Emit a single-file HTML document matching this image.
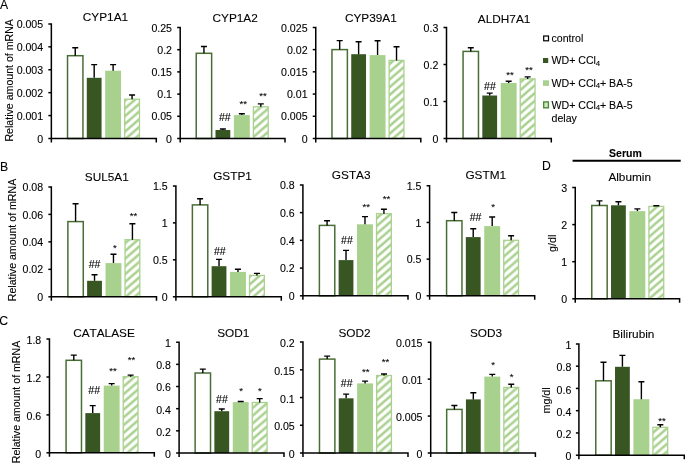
<!DOCTYPE html>
<html><head><meta charset="utf-8"><title>Figure</title>
<style>
html,body{margin:0;padding:0;background:#fff;}
svg{display:block;will-change:transform;}
text{font-family:"Liberation Sans",sans-serif;fill:#000;font-kerning:none;stroke:#000;stroke-width:0.1px;}
</style></head><body>
<svg width="685" height="463" viewBox="0 0 685 463">
<defs>
<pattern id="h0" patternUnits="userSpaceOnUse" x="8.486" y="0" width="8.95" height="7.75"><rect width="8.95" height="7.75" fill="#fff"/><path d="M-8.95 7.75L8.95 -7.75M0 7.75L8.95 0M0 15.5L17.9 0" stroke="#A9D18E" stroke-width="2.45"/></pattern>
<pattern id="h1" patternUnits="userSpaceOnUse" x="8.770" y="0" width="8.95" height="7.75"><rect width="8.95" height="7.75" fill="#fff"/><path d="M-8.95 7.75L8.95 -7.75M0 7.75L8.95 0M0 15.5L17.9 0" stroke="#A9D18E" stroke-width="2.45"/></pattern>
<pattern id="h2" patternUnits="userSpaceOnUse" x="7.014" y="0" width="8.95" height="7.75"><rect width="8.95" height="7.75" fill="#fff"/><path d="M-8.95 7.75L8.95 -7.75M0 7.75L8.95 0M0 15.5L17.9 0" stroke="#A9D18E" stroke-width="2.45"/></pattern>
<pattern id="h3" patternUnits="userSpaceOnUse" x="6.822" y="0" width="8.95" height="7.75"><rect width="8.95" height="7.75" fill="#fff"/><path d="M-8.95 7.75L8.95 -7.75M0 7.75L8.95 0M0 15.5L17.9 0" stroke="#A9D18E" stroke-width="2.45"/></pattern>
<pattern id="h4" patternUnits="userSpaceOnUse" x="3.174" y="0" width="8.95" height="7.75"><rect width="8.95" height="7.75" fill="#fff"/><path d="M-8.95 7.75L8.95 -7.75M0 7.75L8.95 0M0 15.5L17.9 0" stroke="#A9D18E" stroke-width="2.45"/></pattern>
<pattern id="h5" patternUnits="userSpaceOnUse" x="5.332" y="0" width="8.95" height="7.75"><rect width="8.95" height="7.75" fill="#fff"/><path d="M-8.95 7.75L8.95 -7.75M0 7.75L8.95 0M0 15.5L17.9 0" stroke="#A9D18E" stroke-width="2.45"/></pattern>
<pattern id="h6" patternUnits="userSpaceOnUse" x="2.270" y="0" width="8.95" height="7.75"><rect width="8.95" height="7.75" fill="#fff"/><path d="M-8.95 7.75L8.95 -7.75M0 7.75L8.95 0M0 15.5L17.9 0" stroke="#A9D18E" stroke-width="2.45"/></pattern>
<pattern id="h7" patternUnits="userSpaceOnUse" x="3.470" y="0" width="8.95" height="7.75"><rect width="8.95" height="7.75" fill="#fff"/><path d="M-8.95 7.75L8.95 -7.75M0 7.75L8.95 0M0 15.5L17.9 0" stroke="#A9D18E" stroke-width="2.45"/></pattern>
<pattern id="h8" patternUnits="userSpaceOnUse" x="0.831" y="0" width="8.95" height="7.75"><rect width="8.95" height="7.75" fill="#fff"/><path d="M-8.95 7.75L8.95 -7.75M0 7.75L8.95 0M0 15.5L17.9 0" stroke="#A9D18E" stroke-width="2.45"/></pattern>
<pattern id="h9" patternUnits="userSpaceOnUse" x="6.024" y="0" width="8.95" height="7.75"><rect width="8.95" height="7.75" fill="#fff"/><path d="M-8.95 7.75L8.95 -7.75M0 7.75L8.95 0M0 15.5L17.9 0" stroke="#A9D18E" stroke-width="2.45"/></pattern>
<pattern id="h10" patternUnits="userSpaceOnUse" x="7.755" y="0" width="8.95" height="7.75"><rect width="8.95" height="7.75" fill="#fff"/><path d="M-8.95 7.75L8.95 -7.75M0 7.75L8.95 0M0 15.5L17.9 0" stroke="#A9D18E" stroke-width="2.45"/></pattern>
<pattern id="h11" patternUnits="userSpaceOnUse" x="6.543" y="0" width="8.95" height="7.75"><rect width="8.95" height="7.75" fill="#fff"/><path d="M-8.95 7.75L8.95 -7.75M0 7.75L8.95 0M0 15.5L17.9 0" stroke="#A9D18E" stroke-width="2.45"/></pattern>
<pattern id="h12" patternUnits="userSpaceOnUse" x="7.396" y="0" width="8.95" height="7.75"><rect width="8.95" height="7.75" fill="#fff"/><path d="M-8.95 7.75L8.95 -7.75M0 7.75L8.95 0M0 15.5L17.9 0" stroke="#A9D18E" stroke-width="2.45"/></pattern>
<pattern id="h13" patternUnits="userSpaceOnUse" x="7.141" y="0" width="8.95" height="7.75"><rect width="8.95" height="7.75" fill="#fff"/><path d="M-8.95 7.75L8.95 -7.75M0 7.75L8.95 0M0 15.5L17.9 0" stroke="#A9D18E" stroke-width="2.45"/></pattern>
</defs>
<filter id="soft" x="0" y="0" width="685" height="463" filterUnits="userSpaceOnUse"><feGaussianBlur stdDeviation="0.3"/></filter>
<rect width="685" height="463" fill="#fff"/>
<g filter="url(#soft)">
<rect width="685" height="463" fill="#fff"/>
<text x="105.45" y="21.40" font-size="11.8" text-anchor="middle">CYP1A1</text>
<text x="43.15" y="28.05" font-size="10.6" text-anchor="end">0.005</text>
<text x="43.15" y="50.97" font-size="10.6" text-anchor="end">0.004</text>
<text x="43.15" y="73.89" font-size="10.6" text-anchor="end">0.003</text>
<text x="43.15" y="96.81" font-size="10.6" text-anchor="end">0.002</text>
<text x="43.15" y="119.73" font-size="10.6" text-anchor="end">0.001</text>
<text x="43.15" y="142.65" font-size="10.6" text-anchor="end">0</text>
<rect x="67.53" y="55.70" width="15.40" height="82.80" fill="#fff" stroke="#4A6E36" stroke-width="1.5"/>
<path d="M75.23 55.70V47.80M72.23 47.80H78.23" stroke="#000" stroke-width="1.4" fill="none"/>
<rect x="86.78" y="77.80" width="14.80" height="60.70" fill="#375623"/>
<path d="M94.18 77.80V64.60M91.18 64.60H97.18" stroke="#000" stroke-width="1.4" fill="none"/>
<rect x="105.17" y="70.70" width="15.90" height="67.80" fill="#A9D18E"/>
<path d="M113.12 70.70V64.60M110.12 64.60H116.12" stroke="#000" stroke-width="1.4" fill="none"/>
<rect x="124.67" y="99.20" width="14.80" height="39.30" fill="url(#h0)" stroke="#A9D18E" stroke-width="1.3"/>
<path d="M132.07 99.20V95.00M129.07 95.00H135.07" stroke="#000" stroke-width="1.4" fill="none"/>
<path d="M48.35 23.90H51.35V138.50H156.30V142.50M51.35 138.50V142.50" stroke="#000" stroke-width="1.5" fill="none"/>
<path d="M48.35 46.82H51.35" stroke="#000" stroke-width="1.5"/>
<path d="M48.35 69.74H51.35" stroke="#000" stroke-width="1.5"/>
<path d="M48.35 92.66H51.35" stroke="#000" stroke-width="1.5"/>
<path d="M48.35 115.58H51.35" stroke="#000" stroke-width="1.5"/>
<path d="M48.35 138.50H51.35" stroke="#000" stroke-width="1.5"/>
<text x="235.15" y="21.60" font-size="11.8" text-anchor="middle">CYP1A2</text>
<text x="172.00" y="31.65" font-size="10.6" text-anchor="end">0.25</text>
<text x="172.00" y="53.85" font-size="10.6" text-anchor="end">0.2</text>
<text x="172.00" y="76.05" font-size="10.6" text-anchor="end">0.15</text>
<text x="172.00" y="98.25" font-size="10.6" text-anchor="end">0.1</text>
<text x="172.00" y="120.45" font-size="10.6" text-anchor="end">0.05</text>
<text x="172.00" y="142.65" font-size="10.6" text-anchor="end">0</text>
<rect x="196.24" y="53.30" width="15.40" height="85.20" fill="#fff" stroke="#4A6E36" stroke-width="1.5"/>
<path d="M203.94 53.30V46.50M200.94 46.50H206.94" stroke="#000" stroke-width="1.4" fill="none"/>
<rect x="215.49" y="130.00" width="14.80" height="8.50" fill="#375623"/>
<path d="M222.89 130.00V129.00M219.89 129.00H225.89" stroke="#000" stroke-width="1.4" fill="none"/>
<rect x="233.89" y="115.10" width="15.90" height="23.40" fill="#A9D18E"/>
<path d="M241.84 115.10V113.80M238.84 113.80H244.84" stroke="#000" stroke-width="1.4" fill="none"/>
<rect x="253.39" y="106.80" width="14.80" height="31.70" fill="url(#h1)" stroke="#A9D18E" stroke-width="1.3"/>
<path d="M260.79 106.80V103.90M257.79 103.90H263.79" stroke="#000" stroke-width="1.4" fill="none"/>
<path d="M177.20 27.50H180.20V138.50H285.00V142.50M180.20 138.50V142.50" stroke="#000" stroke-width="1.5" fill="none"/>
<path d="M177.20 49.70H180.20" stroke="#000" stroke-width="1.5"/>
<path d="M177.20 71.90H180.20" stroke="#000" stroke-width="1.5"/>
<path d="M177.20 94.10H180.20" stroke="#000" stroke-width="1.5"/>
<path d="M177.20 116.30H180.20" stroke="#000" stroke-width="1.5"/>
<path d="M177.20 138.50H180.20" stroke="#000" stroke-width="1.5"/>
<text x="224.80" y="121.30" font-size="10.6" text-anchor="middle">##</text>
<text x="243.20" y="107.14" font-size="9.6" text-anchor="middle">**</text>
<text x="263.00" y="98.84" font-size="9.6" text-anchor="middle">**</text>
<text x="370.85" y="21.60" font-size="11.8" text-anchor="middle">CYP39A1</text>
<text x="307.55" y="31.55" font-size="10.6" text-anchor="end">0.025</text>
<text x="307.55" y="53.77" font-size="10.6" text-anchor="end">0.02</text>
<text x="307.55" y="75.99" font-size="10.6" text-anchor="end">0.015</text>
<text x="307.55" y="98.21" font-size="10.6" text-anchor="end">0.01</text>
<text x="307.55" y="120.43" font-size="10.6" text-anchor="end">0.005</text>
<text x="307.55" y="142.65" font-size="10.6" text-anchor="end">0</text>
<rect x="331.98" y="49.60" width="15.40" height="88.90" fill="#fff" stroke="#4A6E36" stroke-width="1.5"/>
<path d="M339.68 49.60V40.60M336.68 40.60H342.68" stroke="#000" stroke-width="1.4" fill="none"/>
<rect x="351.23" y="54.20" width="14.80" height="84.30" fill="#375623"/>
<path d="M358.62 54.20V41.80M355.62 41.80H361.62" stroke="#000" stroke-width="1.4" fill="none"/>
<rect x="369.63" y="55.10" width="15.90" height="83.40" fill="#A9D18E"/>
<path d="M377.58 55.10V40.80M374.58 40.80H380.58" stroke="#000" stroke-width="1.4" fill="none"/>
<rect x="389.13" y="60.40" width="14.80" height="78.10" fill="url(#h2)" stroke="#A9D18E" stroke-width="1.3"/>
<path d="M396.53 60.40V46.80M393.53 46.80H399.53" stroke="#000" stroke-width="1.4" fill="none"/>
<path d="M312.75 27.40H315.75V138.50H420.80V142.50M315.75 138.50V142.50" stroke="#000" stroke-width="1.5" fill="none"/>
<path d="M312.75 49.62H315.75" stroke="#000" stroke-width="1.5"/>
<path d="M312.75 71.84H315.75" stroke="#000" stroke-width="1.5"/>
<path d="M312.75 94.06H315.75" stroke="#000" stroke-width="1.5"/>
<path d="M312.75 116.28H315.75" stroke="#000" stroke-width="1.5"/>
<path d="M312.75 138.50H315.75" stroke="#000" stroke-width="1.5"/>
<text x="504.10" y="22.70" font-size="11.8" text-anchor="middle">ALDH7A1</text>
<text x="438.30" y="31.65" font-size="10.6" text-anchor="end">0.3</text>
<text x="438.30" y="68.65" font-size="10.6" text-anchor="end">0.2</text>
<text x="438.30" y="105.65" font-size="10.6" text-anchor="end">0.1</text>
<text x="438.30" y="142.65" font-size="10.6" text-anchor="end">0</text>
<rect x="463.07" y="51.40" width="15.40" height="87.10" fill="#fff" stroke="#4A6E36" stroke-width="1.5"/>
<path d="M470.77 51.40V47.80M467.77 47.80H473.77" stroke="#000" stroke-width="1.4" fill="none"/>
<rect x="482.32" y="95.50" width="14.80" height="43.00" fill="#375623"/>
<path d="M489.72 95.50V93.10M486.72 93.10H492.72" stroke="#000" stroke-width="1.4" fill="none"/>
<rect x="500.73" y="83.00" width="15.90" height="55.50" fill="#A9D18E"/>
<path d="M508.68 83.00V81.20M505.68 81.20H511.68" stroke="#000" stroke-width="1.4" fill="none"/>
<rect x="520.23" y="78.90" width="14.80" height="59.60" fill="url(#h3)" stroke="#A9D18E" stroke-width="1.3"/>
<path d="M527.62 78.90V76.90M524.62 76.90H530.62" stroke="#000" stroke-width="1.4" fill="none"/>
<path d="M443.50 27.50H446.50V138.50H551.30V142.50M446.50 138.50V142.50" stroke="#000" stroke-width="1.5" fill="none"/>
<path d="M443.50 64.50H446.50" stroke="#000" stroke-width="1.5"/>
<path d="M443.50 101.50H446.50" stroke="#000" stroke-width="1.5"/>
<path d="M443.50 138.50H446.50" stroke="#000" stroke-width="1.5"/>
<text x="490.00" y="89.80" font-size="10.6" text-anchor="middle">##</text>
<text x="510.10" y="78.34" font-size="9.6" text-anchor="middle">**</text>
<text x="528.90" y="73.14" font-size="9.6" text-anchor="middle">**</text>
<text x="106.80" y="181.20" font-size="11.8" text-anchor="middle">SUL5A1</text>
<text x="43.15" y="191.05" font-size="10.6" text-anchor="end">0.08</text>
<text x="43.15" y="218.53" font-size="10.6" text-anchor="end">0.06</text>
<text x="43.15" y="246.00" font-size="10.6" text-anchor="end">0.04</text>
<text x="43.15" y="273.48" font-size="10.6" text-anchor="end">0.02</text>
<text x="43.15" y="300.95" font-size="10.6" text-anchor="end">0</text>
<rect x="67.88" y="221.60" width="15.40" height="75.20" fill="#fff" stroke="#4A6E36" stroke-width="1.5"/>
<path d="M75.58 221.60V203.80M72.58 203.80H78.58" stroke="#000" stroke-width="1.4" fill="none"/>
<rect x="87.12" y="280.80" width="14.80" height="16.00" fill="#375623"/>
<path d="M94.53 280.80V274.70M91.53 274.70H97.53" stroke="#000" stroke-width="1.4" fill="none"/>
<rect x="105.52" y="263.10" width="15.90" height="33.70" fill="#A9D18E"/>
<path d="M113.47 263.10V254.30M110.47 254.30H116.47" stroke="#000" stroke-width="1.4" fill="none"/>
<rect x="125.03" y="239.70" width="14.80" height="57.10" fill="url(#h4)" stroke="#A9D18E" stroke-width="1.3"/>
<path d="M132.43 239.70V223.80M129.43 223.80H135.43" stroke="#000" stroke-width="1.4" fill="none"/>
<path d="M48.35 186.90H51.35V296.80H156.50V300.80M51.35 296.80V300.80" stroke="#000" stroke-width="1.5" fill="none"/>
<path d="M48.35 214.38H51.35" stroke="#000" stroke-width="1.5"/>
<path d="M48.35 241.85H51.35" stroke="#000" stroke-width="1.5"/>
<path d="M48.35 269.33H51.35" stroke="#000" stroke-width="1.5"/>
<path d="M48.35 296.80H51.35" stroke="#000" stroke-width="1.5"/>
<text x="94.60" y="268.30" font-size="10.6" text-anchor="middle">##</text>
<text x="114.90" y="251.34" font-size="9.6" text-anchor="middle">*</text>
<text x="133.50" y="218.84" font-size="9.6" text-anchor="middle">**</text>
<text x="232.50" y="179.50" font-size="11.8" text-anchor="middle">GSTP1</text>
<text x="167.70" y="190.05" font-size="10.6" text-anchor="end">1.5</text>
<text x="167.70" y="227.02" font-size="10.6" text-anchor="end">1</text>
<text x="167.70" y="263.98" font-size="10.6" text-anchor="end">0.5</text>
<text x="167.70" y="300.95" font-size="10.6" text-anchor="end">0</text>
<rect x="192.38" y="204.90" width="15.40" height="91.90" fill="#fff" stroke="#4A6E36" stroke-width="1.5"/>
<path d="M200.07 204.90V198.80M197.07 198.80H203.07" stroke="#000" stroke-width="1.4" fill="none"/>
<rect x="211.62" y="266.20" width="14.80" height="30.60" fill="#375623"/>
<path d="M219.03 266.20V259.40M216.03 259.40H222.03" stroke="#000" stroke-width="1.4" fill="none"/>
<rect x="230.03" y="271.90" width="15.90" height="24.90" fill="#A9D18E"/>
<path d="M237.97 271.90V269.20M234.97 269.20H240.97" stroke="#000" stroke-width="1.4" fill="none"/>
<rect x="249.53" y="275.40" width="14.80" height="21.40" fill="url(#h5)" stroke="#A9D18E" stroke-width="1.3"/>
<path d="M256.93 275.40V273.40M253.93 273.40H259.93" stroke="#000" stroke-width="1.4" fill="none"/>
<path d="M172.90 185.90H175.90V296.80H281.30V300.80M175.90 296.80V300.80" stroke="#000" stroke-width="1.5" fill="none"/>
<path d="M172.90 222.87H175.90" stroke="#000" stroke-width="1.5"/>
<path d="M172.90 259.83H175.90" stroke="#000" stroke-width="1.5"/>
<path d="M172.90 296.80H175.90" stroke="#000" stroke-width="1.5"/>
<text x="219.80" y="254.60" font-size="10.6" text-anchor="middle">##</text>
<text x="351.20" y="179.10" font-size="11.8" text-anchor="middle">GSTA3</text>
<text x="294.70" y="189.05" font-size="10.6" text-anchor="end">0.8</text>
<text x="294.70" y="216.78" font-size="10.6" text-anchor="end">0.6</text>
<text x="294.70" y="244.50" font-size="10.6" text-anchor="end">0.4</text>
<text x="294.70" y="272.23" font-size="10.6" text-anchor="end">0.2</text>
<text x="294.70" y="299.95" font-size="10.6" text-anchor="end">0</text>
<rect x="319.38" y="225.40" width="15.40" height="70.40" fill="#fff" stroke="#4A6E36" stroke-width="1.5"/>
<path d="M327.07 225.40V220.80M324.07 220.80H330.07" stroke="#000" stroke-width="1.4" fill="none"/>
<rect x="338.62" y="260.10" width="14.80" height="35.70" fill="#375623"/>
<path d="M346.02 260.10V250.40M343.02 250.40H349.02" stroke="#000" stroke-width="1.4" fill="none"/>
<rect x="357.03" y="224.30" width="15.90" height="71.50" fill="#A9D18E"/>
<path d="M364.98 224.30V216.60M361.98 216.60H367.98" stroke="#000" stroke-width="1.4" fill="none"/>
<rect x="376.53" y="213.70" width="14.80" height="82.10" fill="url(#h6)" stroke="#A9D18E" stroke-width="1.3"/>
<path d="M383.93 213.70V209.20M380.93 209.20H386.93" stroke="#000" stroke-width="1.4" fill="none"/>
<path d="M299.90 184.90H302.90V295.80H408.00V299.80M302.90 295.80V299.80" stroke="#000" stroke-width="1.5" fill="none"/>
<path d="M299.90 212.62H302.90" stroke="#000" stroke-width="1.5"/>
<path d="M299.90 240.35H302.90" stroke="#000" stroke-width="1.5"/>
<path d="M299.90 268.08H302.90" stroke="#000" stroke-width="1.5"/>
<path d="M299.90 295.80H302.90" stroke="#000" stroke-width="1.5"/>
<text x="346.90" y="243.90" font-size="10.6" text-anchor="middle">##</text>
<text x="366.20" y="210.24" font-size="9.6" text-anchor="middle">**</text>
<text x="386.40" y="202.04" font-size="9.6" text-anchor="middle">**</text>
<text x="485.70" y="179.10" font-size="11.8" text-anchor="middle">GSTM1</text>
<text x="421.40" y="189.95" font-size="10.6" text-anchor="end">1.5</text>
<text x="421.40" y="226.62" font-size="10.6" text-anchor="end">1</text>
<text x="421.40" y="263.28" font-size="10.6" text-anchor="end">0.5</text>
<text x="421.40" y="299.95" font-size="10.6" text-anchor="end">0</text>
<rect x="446.57" y="220.70" width="15.40" height="75.10" fill="#fff" stroke="#4A6E36" stroke-width="1.5"/>
<path d="M454.27 220.70V212.50M451.27 212.50H457.27" stroke="#000" stroke-width="1.4" fill="none"/>
<rect x="465.82" y="237.10" width="14.80" height="58.70" fill="#375623"/>
<path d="M473.22 237.10V228.70M470.22 228.70H476.22" stroke="#000" stroke-width="1.4" fill="none"/>
<rect x="484.23" y="226.10" width="15.90" height="69.70" fill="#A9D18E"/>
<path d="M492.18 226.10V217.00M489.18 217.00H495.18" stroke="#000" stroke-width="1.4" fill="none"/>
<rect x="503.73" y="240.30" width="14.80" height="55.50" fill="url(#h7)" stroke="#A9D18E" stroke-width="1.3"/>
<path d="M511.12 240.30V235.80M508.12 235.80H514.12" stroke="#000" stroke-width="1.4" fill="none"/>
<path d="M426.60 185.80H429.60V295.80H534.70V299.80M429.60 295.80V299.80" stroke="#000" stroke-width="1.5" fill="none"/>
<path d="M426.60 222.47H429.60" stroke="#000" stroke-width="1.5"/>
<path d="M426.60 259.13H429.60" stroke="#000" stroke-width="1.5"/>
<path d="M426.60 295.80H429.60" stroke="#000" stroke-width="1.5"/>
<text x="475.60" y="220.50" font-size="10.6" text-anchor="middle">##</text>
<text x="493.00" y="210.14" font-size="9.6" text-anchor="middle">*</text>
<text x="629.70" y="181.10" font-size="11.8" text-anchor="middle">Albumin</text>
<text x="567.05" y="191.65" font-size="10.6" text-anchor="end">3</text>
<text x="567.05" y="228.75" font-size="10.6" text-anchor="end">2</text>
<text x="567.05" y="265.85" font-size="10.6" text-anchor="end">1</text>
<text x="567.05" y="302.95" font-size="10.6" text-anchor="end">0</text>
<rect x="591.77" y="205.50" width="15.40" height="93.30" fill="#fff" stroke="#4A6E36" stroke-width="1.5"/>
<path d="M599.48 205.50V200.90M596.48 200.90H602.48" stroke="#000" stroke-width="1.4" fill="none"/>
<rect x="611.02" y="205.30" width="14.80" height="93.50" fill="#375623"/>
<path d="M618.42 205.30V201.80M615.42 201.80H621.42" stroke="#000" stroke-width="1.4" fill="none"/>
<rect x="629.42" y="211.10" width="15.90" height="87.70" fill="#A9D18E"/>
<path d="M637.38 211.10V208.90M634.38 208.90H640.38" stroke="#000" stroke-width="1.4" fill="none"/>
<rect x="648.92" y="206.40" width="14.80" height="92.40" fill="url(#h8)" stroke="#A9D18E" stroke-width="1.3"/>
<path d="M656.32 206.40V205.80M653.32 205.80H659.32" stroke="#000" stroke-width="1.4" fill="none"/>
<path d="M572.25 187.50H575.25V298.80H679.60V302.80M575.25 298.80V302.80" stroke="#000" stroke-width="1.5" fill="none"/>
<path d="M572.25 224.60H575.25" stroke="#000" stroke-width="1.5"/>
<path d="M572.25 261.70H575.25" stroke="#000" stroke-width="1.5"/>
<path d="M572.25 298.80H575.25" stroke="#000" stroke-width="1.5"/>
<text x="103.95" y="336.50" font-size="11.8" text-anchor="middle">CATALASE</text>
<text x="41.25" y="344.05" font-size="10.6" text-anchor="end">1.8</text>
<text x="41.25" y="381.95" font-size="10.6" text-anchor="end">1.2</text>
<text x="41.25" y="419.85" font-size="10.6" text-anchor="end">0.6</text>
<text x="41.25" y="457.75" font-size="10.6" text-anchor="end">0</text>
<rect x="66.08" y="360.30" width="15.40" height="92.50" fill="#fff" stroke="#4A6E36" stroke-width="1.5"/>
<path d="M73.78 360.30V355.10M70.78 355.10H76.78" stroke="#000" stroke-width="1.4" fill="none"/>
<rect x="85.33" y="413.10" width="14.80" height="39.70" fill="#375623"/>
<path d="M92.73 413.10V405.60M89.73 405.60H95.73" stroke="#000" stroke-width="1.4" fill="none"/>
<rect x="103.72" y="385.60" width="15.90" height="67.20" fill="#A9D18E"/>
<path d="M111.67 385.60V383.60M108.67 383.60H114.67" stroke="#000" stroke-width="1.4" fill="none"/>
<rect x="123.22" y="376.70" width="14.80" height="76.10" fill="url(#h9)" stroke="#A9D18E" stroke-width="1.3"/>
<path d="M130.62 376.70V375.10M127.62 375.10H133.62" stroke="#000" stroke-width="1.4" fill="none"/>
<path d="M46.45 339.10H49.45V452.80H154.30V456.80M49.45 452.80V456.80" stroke="#000" stroke-width="1.5" fill="none"/>
<path d="M46.45 377.00H49.45" stroke="#000" stroke-width="1.5"/>
<path d="M46.45 414.90H49.45" stroke="#000" stroke-width="1.5"/>
<path d="M46.45 452.80H49.45" stroke="#000" stroke-width="1.5"/>
<text x="94.20" y="393.90" font-size="10.6" text-anchor="middle">##</text>
<text x="113.10" y="373.84" font-size="9.6" text-anchor="middle">**</text>
<text x="131.40" y="362.74" font-size="9.6" text-anchor="middle">**</text>
<text x="233.25" y="336.60" font-size="11.8" text-anchor="middle">SOD1</text>
<text x="170.90" y="347.15" font-size="10.6" text-anchor="end">1</text>
<text x="170.90" y="369.31" font-size="10.6" text-anchor="end">0.8</text>
<text x="170.90" y="391.47" font-size="10.6" text-anchor="end">0.6</text>
<text x="170.90" y="413.63" font-size="10.6" text-anchor="end">0.4</text>
<text x="170.90" y="435.79" font-size="10.6" text-anchor="end">0.2</text>
<text x="170.90" y="457.95" font-size="10.6" text-anchor="end">0</text>
<rect x="195.12" y="373.00" width="15.40" height="80.00" fill="#fff" stroke="#4A6E36" stroke-width="1.5"/>
<path d="M202.81 373.00V369.10M199.81 369.10H205.81" stroke="#000" stroke-width="1.4" fill="none"/>
<rect x="214.37" y="411.20" width="14.80" height="41.80" fill="#375623"/>
<path d="M221.77 411.20V409.00M218.77 409.00H224.77" stroke="#000" stroke-width="1.4" fill="none"/>
<rect x="232.77" y="402.10" width="15.90" height="50.90" fill="#A9D18E"/>
<path d="M240.72 402.10V401.50M237.72 401.50H243.72" stroke="#000" stroke-width="1.4" fill="none"/>
<rect x="252.27" y="402.50" width="14.80" height="50.50" fill="url(#h10)" stroke="#A9D18E" stroke-width="1.3"/>
<path d="M259.67 402.50V398.60M256.67 398.60H262.67" stroke="#000" stroke-width="1.4" fill="none"/>
<path d="M176.10 342.20H179.10V453.00H284.00V457.00M179.10 453.00V457.00" stroke="#000" stroke-width="1.5" fill="none"/>
<path d="M176.10 364.36H179.10" stroke="#000" stroke-width="1.5"/>
<path d="M176.10 386.52H179.10" stroke="#000" stroke-width="1.5"/>
<path d="M176.10 408.68H179.10" stroke="#000" stroke-width="1.5"/>
<path d="M176.10 430.84H179.10" stroke="#000" stroke-width="1.5"/>
<path d="M176.10 453.00H179.10" stroke="#000" stroke-width="1.5"/>
<text x="221.90" y="402.70" font-size="10.6" text-anchor="middle">##</text>
<text x="241.00" y="393.84" font-size="9.6" text-anchor="middle">*</text>
<text x="259.80" y="393.84" font-size="9.6" text-anchor="middle">*</text>
<text x="354.45" y="336.60" font-size="11.8" text-anchor="middle">SOD2</text>
<text x="294.75" y="347.05" font-size="10.6" text-anchor="end">0.2</text>
<text x="294.75" y="374.78" font-size="10.6" text-anchor="end">0.15</text>
<text x="294.75" y="402.50" font-size="10.6" text-anchor="end">0.1</text>
<text x="294.75" y="430.22" font-size="10.6" text-anchor="end">0.05</text>
<text x="294.75" y="457.95" font-size="10.6" text-anchor="end">0</text>
<rect x="319.48" y="359.10" width="15.40" height="93.90" fill="#fff" stroke="#4A6E36" stroke-width="1.5"/>
<path d="M327.18 359.10V356.10M324.18 356.10H330.18" stroke="#000" stroke-width="1.4" fill="none"/>
<rect x="338.73" y="398.30" width="14.80" height="54.70" fill="#375623"/>
<path d="M346.12 398.30V394.10M343.12 394.10H349.12" stroke="#000" stroke-width="1.4" fill="none"/>
<rect x="357.13" y="383.40" width="15.90" height="69.60" fill="#A9D18E"/>
<path d="M365.08 383.40V381.10M362.08 381.10H368.08" stroke="#000" stroke-width="1.4" fill="none"/>
<rect x="376.63" y="375.50" width="14.80" height="77.50" fill="url(#h11)" stroke="#A9D18E" stroke-width="1.3"/>
<path d="M384.03 375.50V374.00M381.03 374.00H387.03" stroke="#000" stroke-width="1.4" fill="none"/>
<path d="M299.95 342.10H302.95V453.00H408.00V457.00M302.95 453.00V457.00" stroke="#000" stroke-width="1.5" fill="none"/>
<path d="M299.95 369.83H302.95" stroke="#000" stroke-width="1.5"/>
<path d="M299.95 397.55H302.95" stroke="#000" stroke-width="1.5"/>
<path d="M299.95 425.27H302.95" stroke="#000" stroke-width="1.5"/>
<path d="M299.95 453.00H302.95" stroke="#000" stroke-width="1.5"/>
<text x="346.70" y="386.60" font-size="10.6" text-anchor="middle">##</text>
<text x="365.70" y="374.94" font-size="9.6" text-anchor="middle">**</text>
<text x="385.50" y="365.14" font-size="9.6" text-anchor="middle">**</text>
<text x="486.00" y="336.60" font-size="11.8" text-anchor="middle">SOD3</text>
<text x="422.50" y="347.15" font-size="10.6" text-anchor="end">0.015</text>
<text x="422.50" y="384.08" font-size="10.6" text-anchor="end">0.01</text>
<text x="422.50" y="421.02" font-size="10.6" text-anchor="end">0.005</text>
<text x="422.50" y="457.95" font-size="10.6" text-anchor="end">0</text>
<rect x="446.68" y="409.40" width="15.40" height="43.60" fill="#fff" stroke="#4A6E36" stroke-width="1.5"/>
<path d="M454.38 409.40V405.50M451.38 405.50H457.38" stroke="#000" stroke-width="1.4" fill="none"/>
<rect x="465.93" y="399.40" width="14.80" height="53.60" fill="#375623"/>
<path d="M473.32 399.40V392.80M470.32 392.80H476.32" stroke="#000" stroke-width="1.4" fill="none"/>
<rect x="484.33" y="376.60" width="15.90" height="76.40" fill="#A9D18E"/>
<path d="M492.28 376.60V374.40M489.28 374.40H495.28" stroke="#000" stroke-width="1.4" fill="none"/>
<rect x="503.83" y="387.40" width="14.80" height="65.60" fill="url(#h12)" stroke="#A9D18E" stroke-width="1.3"/>
<path d="M511.23 387.40V384.20M508.23 384.20H514.23" stroke="#000" stroke-width="1.4" fill="none"/>
<path d="M427.70 342.20H430.70V453.00H535.40V457.00M430.70 453.00V457.00" stroke="#000" stroke-width="1.5" fill="none"/>
<path d="M427.70 379.13H430.70" stroke="#000" stroke-width="1.5"/>
<path d="M427.70 416.07H430.70" stroke="#000" stroke-width="1.5"/>
<path d="M427.70 453.00H430.70" stroke="#000" stroke-width="1.5"/>
<text x="493.20" y="368.44" font-size="9.6" text-anchor="middle">*</text>
<text x="511.70" y="379.54" font-size="9.6" text-anchor="middle">*</text>
<text x="633.45" y="338.40" font-size="11.8" text-anchor="middle">Bilirubin</text>
<text x="571.30" y="349.05" font-size="10.6" text-anchor="end">1</text>
<text x="571.30" y="371.31" font-size="10.6" text-anchor="end">0.8</text>
<text x="571.30" y="393.57" font-size="10.6" text-anchor="end">0.6</text>
<text x="571.30" y="415.83" font-size="10.6" text-anchor="end">0.4</text>
<text x="571.30" y="438.09" font-size="10.6" text-anchor="end">0.2</text>
<text x="571.30" y="460.35" font-size="10.6" text-anchor="end">0</text>
<rect x="595.77" y="380.80" width="15.40" height="74.40" fill="#fff" stroke="#4A6E36" stroke-width="1.5"/>
<path d="M603.48 380.80V362.30M600.48 362.30H606.48" stroke="#000" stroke-width="1.4" fill="none"/>
<rect x="615.02" y="366.80" width="14.80" height="88.40" fill="#375623"/>
<path d="M622.42 366.80V355.40M619.42 355.40H625.42" stroke="#000" stroke-width="1.4" fill="none"/>
<rect x="633.42" y="399.20" width="15.90" height="56.00" fill="#A9D18E"/>
<path d="M641.38 399.20V381.70M638.38 381.70H644.38" stroke="#000" stroke-width="1.4" fill="none"/>
<rect x="652.92" y="427.30" width="14.80" height="27.90" fill="url(#h13)" stroke="#A9D18E" stroke-width="1.3"/>
<path d="M660.32 427.30V424.80M657.32 424.80H663.32" stroke="#000" stroke-width="1.4" fill="none"/>
<path d="M575.90 343.90H578.90V455.20H684.30V459.20M578.90 455.20V459.20" stroke="#000" stroke-width="1.5" fill="none"/>
<path d="M575.90 366.16H578.90" stroke="#000" stroke-width="1.5"/>
<path d="M575.90 388.42H578.90" stroke="#000" stroke-width="1.5"/>
<path d="M575.90 410.68H578.90" stroke="#000" stroke-width="1.5"/>
<path d="M575.90 432.94H578.90" stroke="#000" stroke-width="1.5"/>
<path d="M575.90 455.20H578.90" stroke="#000" stroke-width="1.5"/>
<text x="662.00" y="424.14" font-size="9.6" text-anchor="middle">**</text>
<text x="0.10" y="9.00" font-size="12.2" text-anchor="start">A</text>
<text x="0.10" y="171.40" font-size="12.2" text-anchor="start">B</text>
<text x="-0.80" y="324.70" font-size="12.2" text-anchor="start">C</text>
<text x="542.10" y="169.50" font-size="12.2" text-anchor="start">D</text>
<text transform="translate(12.90 80.30) rotate(-90)" font-size="10.6" text-anchor="middle">Relative amount of mRNA</text>
<text transform="translate(15.60 240.00) rotate(-90)" font-size="10.6" text-anchor="middle">Relative amount of mRNA</text>
<text transform="translate(19.50 402.00) rotate(-90)" font-size="10.6" text-anchor="middle">Relative amount of mRNA</text>
<text transform="translate(555.50 243.30) rotate(-90)" font-size="10.7" text-anchor="middle">g/dl</text>
<text transform="translate(550.30 400.40) rotate(-90)" font-size="10.7" text-anchor="middle">mg/dl</text>
<text x="625.40" y="156.60" font-size="10.5" text-anchor="middle" font-weight="bold">Serum</text>
<path d="M572.6 160.8H680.7" stroke="#000" stroke-width="2.1"/>
<rect x="543.7" y="36.0" width="4.8" height="4.8" fill="#fff" stroke="#000" stroke-width="1.2"/>
<rect x="543" y="58" width="5.2" height="5" fill="#375623"/>
<rect x="543" y="80.3" width="6" height="5.6" fill="#A9D18E"/>
<rect x="543.7" y="101.9" width="4.7" height="5.9" fill="#D3E9C5" stroke="#4F8A37" stroke-width="1.4"/>
<text x="551.50" y="41.80" font-size="10.6" text-anchor="start">control</text>
<text x="551.50" y="64.20" font-size="10.6" text-anchor="start">WD+ CCl<tspan font-size="7.8" dx="-0.3" dy="1.4">4</tspan></text>
<text x="551.50" y="86.60" font-size="10.6" text-anchor="start">WD+ CCl<tspan font-size="7.8" dx="-0.3" dy="1.4">4</tspan><tspan dy="-1.4">+ BA-5</tspan></text>
<text x="551.50" y="109.00" font-size="10.6" text-anchor="start">WD+ CCl<tspan font-size="7.8" dx="-0.3" dy="1.4">4</tspan><tspan dy="-1.4">+ BA-5</tspan></text>
<text x="551.50" y="121.50" font-size="10.6" text-anchor="start">delay</text>
</g>
</svg>
</body></html>
